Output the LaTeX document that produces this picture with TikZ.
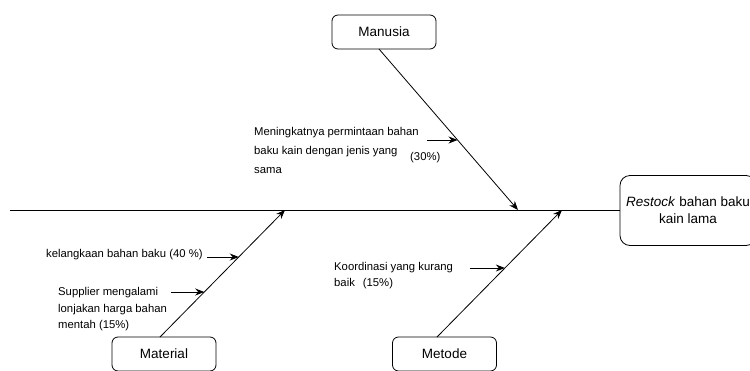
\documentclass[tikz,border=0pt]{standalone}
\usepackage{fontspec}
\setmainfont{Liberation Sans}
\usetikzlibrary{arrows.meta,calc}
\begin{document}
\begin{tikzpicture}[x=1pt,y=-1pt,
  box/.style={draw, line width=0.8pt, rounded corners=6pt, minimum width=104pt, minimum height=34pt, inner sep=0pt, font=\fontsize{13.5}{17}\selectfont},
  lbl/.style={font=\fontsize{11.3}{16.5}\selectfont, align=left, anchor=west, inner sep=0pt},
  arr/.style={-{Stealth[length=9pt,width=7pt]}, line width=0.8pt},
  bone/.style={line width=0.8pt}]
\clip (0,0) rectangle (750,370);
% boxes
\node[box] (man) at (384,32) {Manusia};
\node[box] (mat) at (164,354) {Material};
\node[box] (met) at (444.5,354) {Metode};
\node[box, rounded corners=10pt, minimum width=136pt, minimum height=70pt, align=center] (eff) at (688,210.5) {\textit{Restock} bahan baku\\kain lama};
% spine
\coordinate (tail) at (10,210);
\draw[bone] (tail) -- (tail -| eff.west);
% bones
\coordinate (manS) at (379,49);
\coordinate (manT) at (518,210);
\coordinate (matS) at (160,337);
\coordinate (matT) at (285,210);
\coordinate (metS) at (437,337);
\coordinate (metT) at (562,210);
\draw[arr] (manS) -- (manT);
\draw[arr] (matS) -- (matT);
\draw[arr] (metS) -- (metT);
% cause arrows
\coordinate (c1) at (427,140);
\coordinate (c2) at (207,257);
\coordinate (c3) at (171,292);
\coordinate (c4) at (470,268);
\coordinate (p1) at ($(manS)!0.565!(manT)$);
\coordinate (p2) at ($(matS)!0.63!(matT)$);
\coordinate (p3) at ($(matS)!0.354!(matT)$);
\coordinate (p4) at ($(metS)!0.543!(metT)$);
\draw[arr] (c1) -- (c1 -| p1);
\draw[arr] (c2) -- (c2 -| p2);
\draw[arr] (c3) -- (c3 -| p3);
\draw[arr] (c4) -- (c4 -| p4);
% labels
\node[lbl, font=\fontsize{11.3}{19}\selectfont] (t1) at (254,150) {Meningkatnya permintaan bahan\\baku kain dengan jenis yang\\sama};
\node[lbl] (t1b) at (410,158) {(30\%)};
\node[lbl] (t2) at (46,255) {kelangkaan bahan baku (40 \%)};
\node[lbl] (t3) at (58,309.5) {Supplier mengalami\\lonjakan harga bahan\\mentah (15\%)};
\node[lbl, font=\fontsize{11.3}{16}\selectfont] (t4) at (334,276) {Koordinasi yang kurang\\baik\hspace{8pt}(15\%)};
\end{tikzpicture}
\end{document}
